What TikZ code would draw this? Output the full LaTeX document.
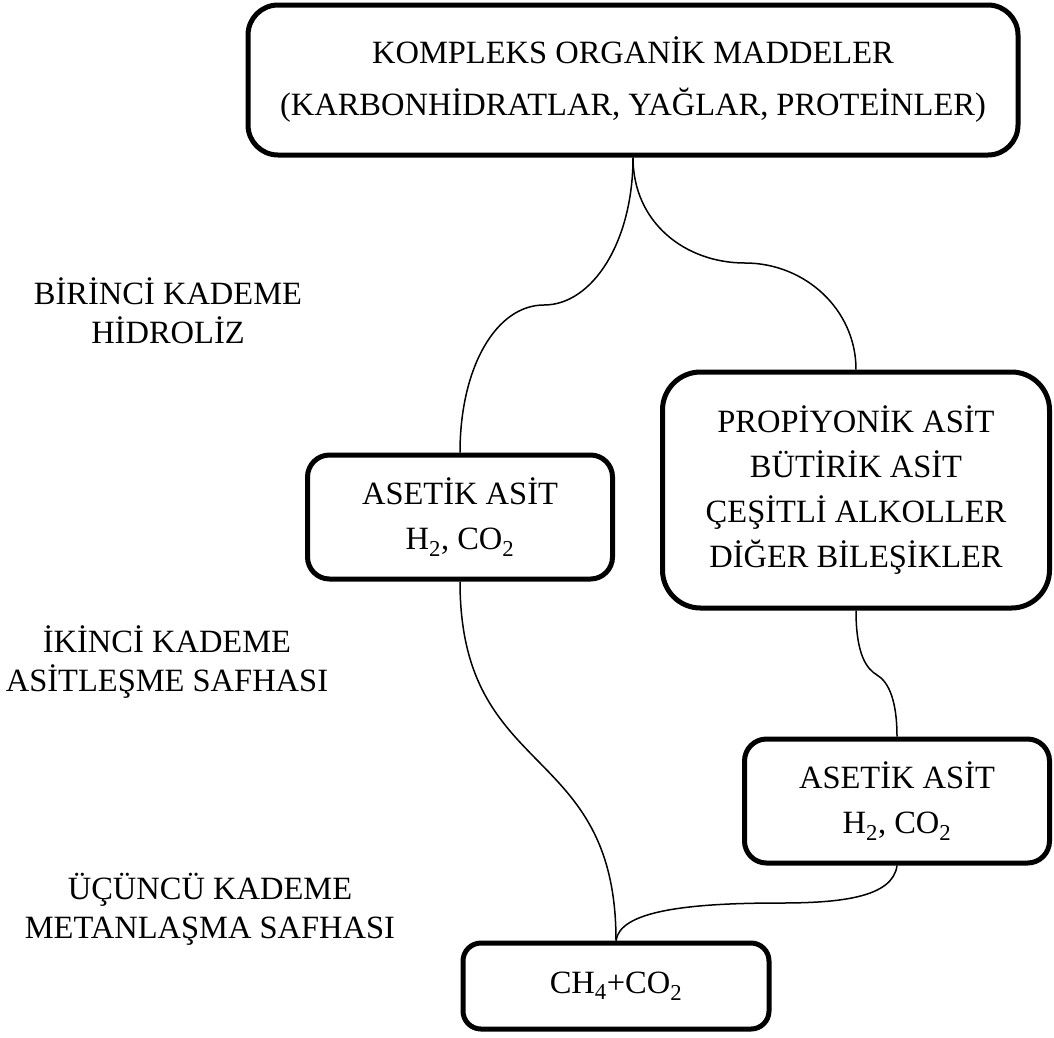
\documentclass[tikz,border=0pt]{standalone}
\usepackage{fontspec}
\setmainfont{Liberation Serif}
\begin{document}
\begin{tikzpicture}[x=1pt,y=-1pt,
  box/.style={draw=black,line width=5pt,rounded corners=#1,align=center,inner sep=0pt,
    font=\fontsize{32.5}{45}\selectfont},
  box/.default=28pt,
  lbl/.style={align=center,inner sep=0pt,font=\fontsize{32.5}{39}\selectfont},
  link/.style={draw=black,line width=1.5pt}]
\useasboundingbox (0,0) rectangle (1054,1037);
% boxes
\node[box=30pt,minimum width=770,minimum height=150,
  font=\fontsize{32.5}{52}\selectfont] (top) at (633,80)
  {KOMPLEKS ORGANİK MADDELER\\(KARBONHİDRATLAR, YAĞLAR, PROTEİNLER)};
\node[box=22pt,minimum width=305,minimum height=124] (ace1) at (460,517)
  {ASETİK ASİT\\H\textsubscript{2}, CO\textsubscript{2}};
\node[box=38pt,minimum width=387,minimum height=236,
  font=\fontsize{32.5}{45}\selectfont] (prop) at (856,490)
  {PROPİYONİK ASİT\\BÜTİRİK ASİT\\ÇEŞİTLİ ALKOLLER\\DİĞER BİLEŞİKLER};
\node[box=22pt,minimum width=305,minimum height=124] (ace2) at (897,801)
  {ASETİK ASİT\\H\textsubscript{2}, CO\textsubscript{2}};
\node[box=18pt,minimum width=306,minimum height=86] (ch4) at (616,986)
  {CH\textsubscript{4}+CO\textsubscript{2}};
% labels
\node[lbl] (l1) at (168,311) {BİRİNCİ KADEME\\HİDROLİZ};
\node[lbl] (l2) at (167,662) {İKİNCİ KADEME\\ASİTLEŞME SAFHASI};
\node[lbl] (l3) at (210,909) {ÜÇÜNCÜ KADEME\\METANLAŞMA SAFHASI};
% connectors
\coordinate (m1) at (544,305);
\coordinate (m2) at (745,263);
\coordinate (m3) at (877,675);
\coordinate (m4) at (780,903);
\path[link] (top.south) .. controls +(0,85) and +(48,0) .. (m1)
  .. controls +(-48,0) and +(0,-85) .. (ace1.north);
\path[link] (top.south) .. controls +(0,65) and +(-60,0) .. (m2)
  .. controls +(60,0) and +(0,-60) .. (prop.north);
\path[link] (prop.south) .. controls +(0,45) and +(-10,-6) .. (m3)
  .. controls +(12,7) and +(0,-35) .. (ace2.north);
\path[link] (ace1.south) .. controls +(0,200) and +(0,-200) .. (ch4.north);
\path[link] (ace2.south) .. controls +(-4,32) and +(60,0) .. (m4)
  .. controls +(-100,0) and +(4,-28) .. (ch4.north);
\end{tikzpicture}
\end{document}
